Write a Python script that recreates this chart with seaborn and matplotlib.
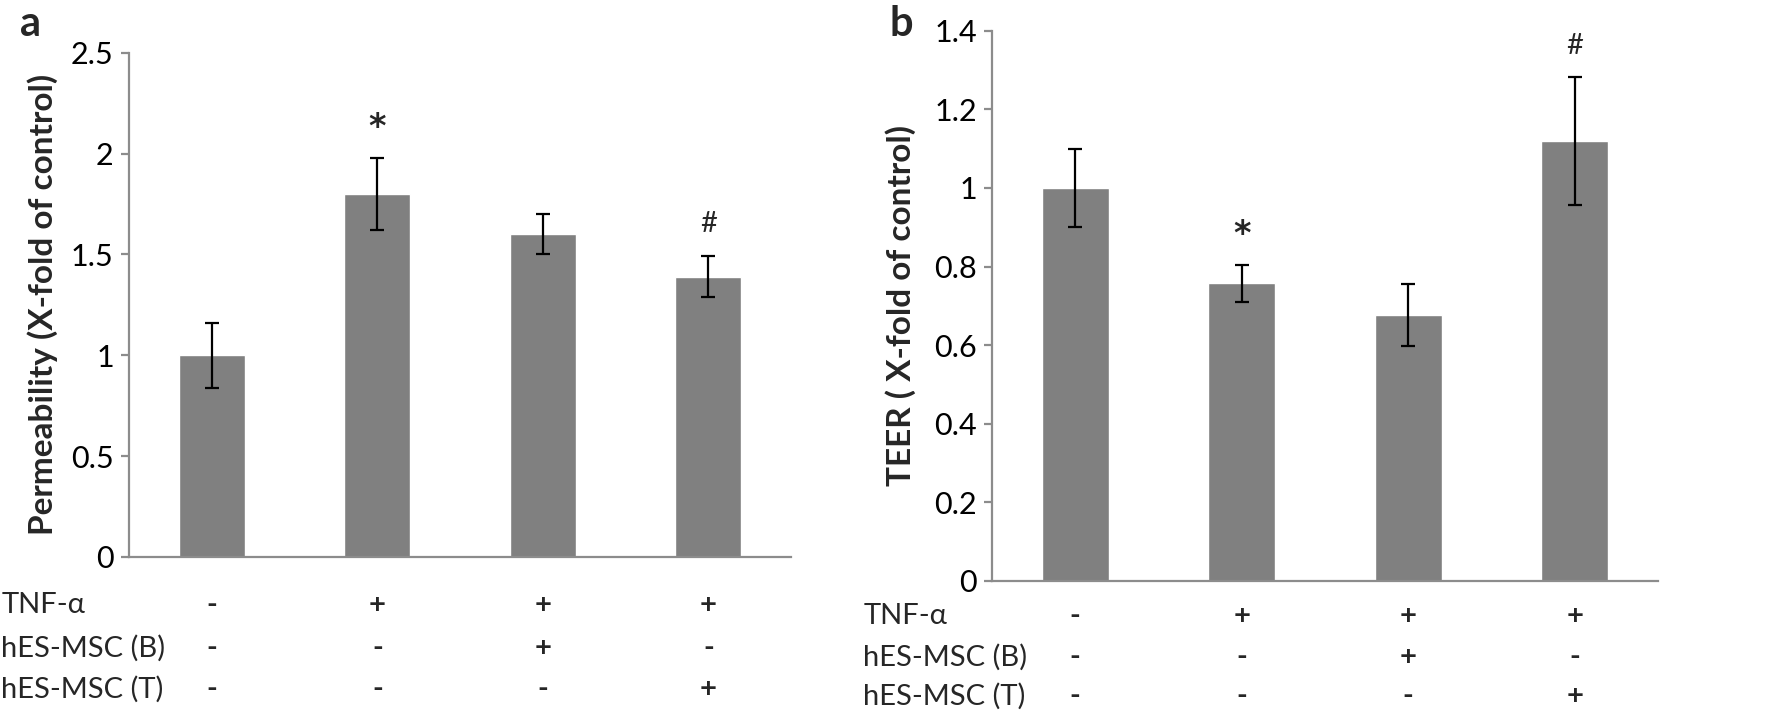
import matplotlib
matplotlib.use("Agg")
import matplotlib.pyplot as plt
import matplotlib.transforms as mtransforms
from matplotlib.ticker import FuncFormatter, MultipleLocator
import seaborn as sns

# data
groups = ["Control", "TNF", "TNF+B", "TNF+T"]
perm_mean = [1.0, 1.8, 1.6, 1.39]
perm_err = [0.16, 0.18, 0.10, 0.10]
teer_mean = [1.0, 0.757, 0.677, 1.119]
teer_err = [0.10, 0.046, 0.078, 0.162]

row_labels = ["TNF-\u03b1", "hES-MSC (B)", "hES-MSC (T)"]
tnf = ["-", "+", "+", "+"]
msc_b = ["-", "-", "+", "-"]
msc_t = ["-", "-", "-", "+"]

perm_marks = ["", "*", "", "#"]
teer_marks = ["", "*", "", "#"]

sns.set_style("white")
plt.rcParams["font.family"] = ["Lato", "DejaVu Sans"]

BAR = "#808080"
AXC = "#8c8c8c"

fig = plt.figure(figsize=(17.73, 7.16), dpi=100)
ax_a = fig.add_axes([0.07276, 0.2221, 0.37338, 0.7043])
ax_b = fig.add_axes([0.5595, 0.18855, 0.3756, 0.7686])


def draw_panel(ax, means, errs, marks, ylim, step, ylabel, label_x, rows_y):
    sns.barplot(x=groups, y=means, color=BAR, saturation=1, width=0.4, ax=ax)
    ax.errorbar(range(len(groups)), means, yerr=errs, fmt="none", ecolor="black",
                elinewidth=1.6, capsize=5, capthick=1.6)
    ax.set_xlim(-0.5, len(groups) - 0.5)
    ax.set_ylim(*ylim)
    ax.yaxis.set_major_locator(MultipleLocator(step))
    ax.yaxis.set_major_formatter(FuncFormatter(lambda v, p: f"{v:g}"))
    ax.tick_params(axis="y", direction="out", length=6, width=1.6, color=AXC,
                   labelsize=22, pad=5, labelcolor="black", left=True)
    ax.tick_params(axis="x", bottom=False, labelbottom=False)
    ax.set_xlabel("")
    for s in ["top", "right"]:
        ax.spines[s].set_visible(False)
    for s in ["left", "bottom"]:
        ax.spines[s].set_color(AXC)
        ax.spines[s].set_linewidth(1.6)
    ax.set_ylabel(ylabel, fontsize=24, fontweight="bold", va="center")
    ax.yaxis.set_label_coords(label_x, 0.5)

    # significance marks
    for i, m in enumerate(marks):
        if m == "*":
            ax.annotate(m, (i, means[i] + errs[i]), xytext=(0, 22), textcoords="offset points",
                        ha="center", va="center", fontsize=24, fontweight="bold",
                        family="DejaVu Sans")
        elif m:
            ax.annotate(m, (i, means[i] + errs[i]), xytext=(0, 23), textcoords="offset points",
                        ha="center", va="center", fontsize=21)

    # treatment table below the axis
    trans = mtransforms.blended_transform_factory(ax.transData, ax.transAxes)
    for label, vals, yy in zip(row_labels, [tnf, msc_b, msc_t], rows_y):
        ax.text(-0.193, yy, label, transform=ax.transAxes, ha="left", va="center", fontsize=21)
        for i, v in enumerate(vals):
            ax.text(i, yy, v, transform=trans, ha="center", va="center",
                    fontsize=21, fontweight="bold")


draw_panel(ax_a, perm_mean, perm_err, perm_marks, (0, 2.5), 0.5,
           "Permeability (X-fold of control)", -0.131, [-0.095, -0.181, -0.262])
draw_panel(ax_b, teer_mean, teer_err, teer_marks, (0, 1.4), 0.2,
           "TEER ( X-fold of control)", -0.137, [-0.064, -0.138, -0.209])

fig.text(20 / 1773, 1 - 24 / 716, "a", fontsize=30, fontweight="bold", va="center")
fig.text(890 / 1773, 1 - 24 / 716, "b", fontsize=30, fontweight="bold", va="center")

fig.savefig("out.png", dpi=100)
